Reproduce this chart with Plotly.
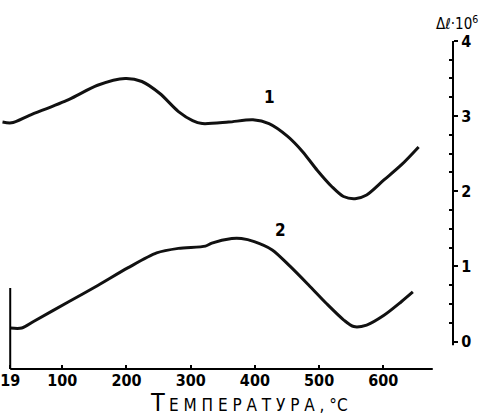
import plotly.graph_objects as go

# Curve 1: temperature (°C) and elongation Δl·10^6
temp1 = [7, 21, 49, 110, 155, 198, 224, 252, 281, 303, 318, 359, 397, 422,
         451, 474, 497, 520, 538, 556, 574, 601, 628, 655]
dl1 = [2.92, 2.91, 3.01, 3.22, 3.41, 3.50, 3.46, 3.30, 3.06, 2.94, 2.90, 2.92, 2.95,
       2.90, 2.73, 2.53, 2.28, 2.06, 1.93, 1.90, 1.95, 2.15, 2.35, 2.59]

# Curve 2
temp2 = [19, 37, 56, 110, 156, 202, 247, 281, 323, 333, 364, 379, 399, 427, 455,
         484, 511, 538, 554, 574, 601, 628, 646]
dl2 = [0.18, 0.18, 0.27, 0.53, 0.75, 0.98, 1.18, 1.24, 1.27, 1.31, 1.37, 1.37, 1.33,
       1.22, 1.00, 0.75, 0.51, 0.29, 0.20, 0.22, 0.35, 0.53, 0.66]

x_ticks = [19, 100, 200, 300, 400, 500, 600]
y_ticks = [0, 1, 2, 3, 4]
y_minor = [0.25, 0.5, 0.75, 1.25, 1.5, 1.75, 2.25, 2.5, 2.75, 3.25, 3.5, 3.75]
curve_labels = ["1", "2"]
curve_label_pos = [(422, 3.25), (440, 1.485)]

tick_font = dict(family="Liberation Sans Narrow, DejaVu Sans Condensed, sans-serif",
                 size=16, color="black", weight="bold")
title_font = "DejaVu Sans Condensed, sans-serif"

fig = go.Figure()
for t, d in ((temp1, dl1), (temp2, dl2)):
    fig.add_trace(go.Scatter(x=t, y=d, mode="lines",
                             line=dict(color="#111111", width=3, shape="spline", smoothing=0.8),
                             showlegend=False, hoverinfo="skip"))

for lab, (lx, ly) in zip(curve_labels, curve_label_pos):
    fig.add_annotation(x=lx, y=ly, text=lab, showarrow=False,
                       font=dict(family=title_font, size=17, color="black", weight="bold"))

# axis title (right, top)
fig.add_annotation(xref="paper", yref="paper", x=1.008, y=1.02,
                   text="Δ<i>ℓ</i>·10<sup>6</sup>", showarrow=False,
                   xanchor="center", yanchor="middle",
                   font=dict(family=title_font, size=15, color="black"))
# x-axis title: large initial letter, then spaced small capitals
fig.add_annotation(xref="paper", yref="paper", x=156 / 453, y=(369 - 402) / 339,
                   text="Т", showarrow=False, xanchor="center", yanchor="middle",
                   font=dict(family=title_font, size=25, color="black"))
fig.add_annotation(xref="paper", yref="paper", x=166 / 453, y=(369 - 405) / 339,
                   text="Е М П Е Р А Т У Р А , °С", showarrow=False,
                   xanchor="left", yanchor="middle",
                   font=dict(family=title_font, size=17, color="black"))

ymin, ymax = -0.3645, 4.145
# axis lines
fig.add_shape(type="line", xref="x", yref="paper", x0=19, x1=677, y0=0, y1=0,
              line=dict(color="black", width=2))
fig.add_shape(type="line", xref="x", yref="y", x0=19, x1=19, y0=ymin, y1=0.713,
              line=dict(color="black", width=2))
fig.add_shape(type="line", xref="paper", yref="y", x0=1, x1=1, y0=-0.05, y1=4.0,
              line=dict(color="black", width=2))

fig.update_xaxes(range=[6.2, 708.5], tickvals=x_ticks, ticktext=[str(v) for v in x_ticks],
                 ticks="inside", ticklen=4, tickwidth=2, tickcolor="black",
                 ticklabeloverflow="allow",
                 showline=False, showgrid=False, zeroline=False, tickfont=tick_font)
fig.update_yaxes(range=[ymin, ymax], side="right", tickvals=y_ticks,
                 ticktext=[str(v) for v in y_ticks],
                 ticks="outside", ticklen=4, tickwidth=2, tickcolor="black",
                 ticklabeloverflow="allow",
                 minor=dict(tickvals=y_minor, ticks="inside", ticklen=4, tickwidth=1.5,
                            tickcolor="black"),
                 showline=False, showgrid=False, zeroline=False, tickfont=tick_font)

fig.update_layout(width=482, height=417, margin=dict(l=0, r=29, t=30, b=48),
                  plot_bgcolor="white", paper_bgcolor="white")
fig.write_html("out.html", config={"displayModeBar": False},
               post_script="document.body.style.margin='0';")
